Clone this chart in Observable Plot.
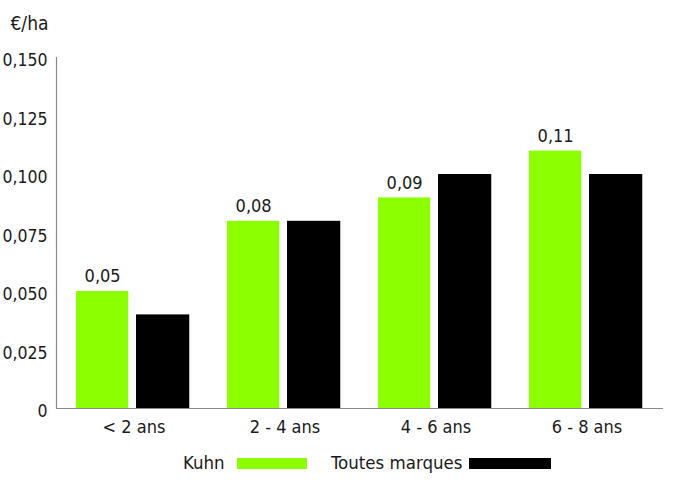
<!DOCTYPE html>
<html><head><meta charset="utf-8">
<script src="https://cdn.jsdelivr.net/npm/d3@7"></script>
<script src="https://cdn.jsdelivr.net/npm/@observablehq/plot@0.6"></script>
<style>
body{margin:0;background:#fff;}
#wrap{position:relative;width:700px;height:489px;font-family:"DejaVu Sans Condensed","Liberation Sans Narrow",sans-serif;color:#1a1a1a;}
.lg{position:absolute;font-size:18.5px;line-height:22px;}
.sw{position:absolute;height:11px;}
</style></head><body><div id="wrap"></div>
<script>
const categories = ["< 2 ans", "2 - 4 ans", "4 - 6 ans", "6 - 8 ans"];
const kuhn = [0.05, 0.08, 0.09, 0.11];
const toutes = [0.04, 0.08, 0.10, 0.10];
const kuhnLabels = ["0,05", "0,08", "0,09", "0,11"];
const yTicks = [0, 0.025, 0.05, 0.075, 0.1, 0.125, 0.15];
const seriesNames = ["Kuhn", "Toutes marques"];
const colors = ["#8cff00", "#000000"];
const unitLabel = "€/ha";

const kuhnData = categories.map((c, i) => ({cat: c, v: kuhn[i], label: kuhnLabels[i]}));
const toutesData = categories.map((c, i) => ({cat: c, v: toutes[i]}));
const fmt = d => d === 0 ? "0" : d.toFixed(3).replace(".", ",");
const font = '"DejaVu Sans Condensed","Liberation Sans Narrow",sans-serif';
const fs = 18;

const chart = Plot.plot({
  width: 700,
  height: 445,
  marginLeft: 56,
  marginRight: 37,
  marginTop: 57,
  marginBottom: 37,
  style: {fontFamily: font, fontSize: fs + "px", color: "#1a1a1a", background: "#fff"},
  x: {domain: categories, padding: 0, label: null},
  y: {domain: [0, 0.15], label: null},
  marks: [
    Plot.barY(kuhnData, {x: "cat", y: "v", fill: colors[0], insetLeft: 18, insetRight: 80.75}),
    Plot.barY(toutesData, {x: "cat", y: "v", fill: colors[1], insetLeft: 78, insetRight: 19.75}),
    Plot.text(kuhnData, {x: "cat", y: "v", text: "label", dx: -31.4, dy: -15, fontSize: fs, fill: "#1a1a1a"}),
    Plot.ruleY([0], {stroke: "#8a8a8a", strokeWidth: 1.2}),
    Plot.frame({anchor: "left", stroke: "#8a8a8a", strokeWidth: 1.2}),
    Plot.axisY({ticks: yTicks, tickFormat: fmt, tickSize: 0, tickPadding: 9, dy: 3, fontSize: 17.5, label: null}),
    Plot.axisX({tickSize: 0, tickPadding: 12, fontSize: fs, label: null}),
    Plot.text([unitLabel], {frameAnchor: "top-left", dx: -46, dy: -34, textAnchor: "start", lineAnchor: "middle", fontSize: 19, fill: "#1a1a1a"})
  ]
});
const wrap = document.getElementById("wrap");
wrap.appendChild(chart);

const legendItems = [
  {name: seriesNames[0], color: colors[0], tx: 183, sx: 237, sw: 70},
  {name: seriesNames[1], color: colors[1], tx: 331, sx: 469, sw: 82}
];
for (const it of legendItems) {
  const t = document.createElement("div");
  t.className = "lg"; t.textContent = it.name;
  t.style.left = it.tx + "px"; t.style.top = "452px";
  wrap.appendChild(t);
  const s = document.createElement("div");
  s.className = "sw"; s.style.background = it.color;
  s.style.left = it.sx + "px"; s.style.top = "458px"; s.style.width = it.sw + "px";
  wrap.appendChild(s);
}
</script>
</body></html>
